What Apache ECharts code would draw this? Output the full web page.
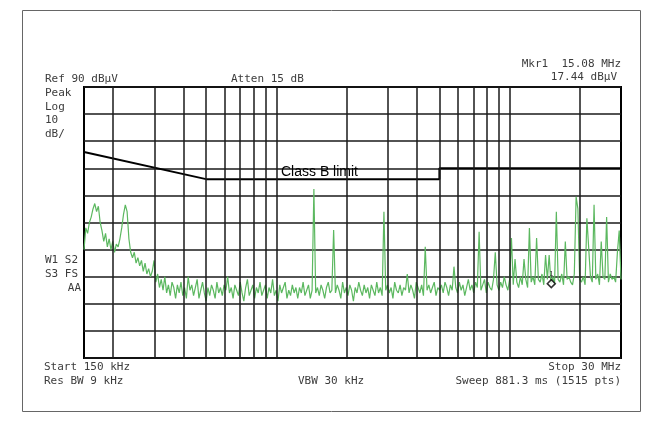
<!DOCTYPE html>
<html>
<head>
<meta charset="utf-8">
<script src="https://cdn.jsdelivr.net/npm/echarts@6/dist/echarts.min.js"></script>
<style>
html,body{margin:0;padding:0;background:#fff;}
#c{width:652px;height:446px;}
</style>
</head>
<body>
<div id="c"></div>
<script>
// Sweep settings (instrument)
const startHz = 150000;
const stopHz = 30000000;
// Measured trace (dBµV), 300 sweep points evenly spaced on the log frequency axis
const traceDb = [
  30, 38, 36, 40, 42, 45, 47, 44, 46, 40, 37, 33, 36, 31, 34, 30, 33, 29, 32, 31,
  34, 38, 43, 46.5, 44, 34, 29, 27, 29, 25, 27, 24, 26, 22, 25, 21, 23, 20, 22, 26,
  18, 21, 16, 19, 15, 20, 14, 17, 13, 18, 16, 12, 17, 14, 18, 13, 16, 12, 20, 15,
  17, 13, 16, 19, 12, 15, 18, 14, 11, 16, 13, 17, 15, 12, 18, 14, 16, 13, 17, 15,
  20, 14, 16, 12, 17, 15, 13, 18, 14, 11, 16, 19, 13, 15, 17, 12, 16, 14, 18, 13,
  15, 17, 12, 16, 14, 19, 13, 15, 11, 17, 14, 16, 18, 12, 15, 13, 17, 14, 16, 12,
  16, 14, 18, 13, 15, 17, 12, 15, 52.4, 14, 16, 13, 17, 15, 12, 16, 18, 14, 15, 37.2,
  14, 17, 15, 12, 18, 14, 16, 13, 17, 15, 11, 16, 14, 18, 15, 13, 17, 14, 16, 12,
  17, 15, 13, 18, 14, 16, 13, 44, 15, 17, 14, 16, 12, 18, 15, 14, 17, 13, 16, 15,
  21, 14, 17, 15, 12, 18, 16, 14, 17, 13, 31, 15, 17, 14, 16, 18, 13, 16, 15, 17,
  14, 18, 16, 13, 17, 15, 23.7, 16, 14, 18, 15, 17, 13, 16, 19, 15, 17, 14, 18, 16,
  36.6, 15, 17, 19, 14, 18, 16, 15, 19, 29, 17, 15, 18, 16, 20, 17, 15, 19, 34.3, 17,
  26.5, 18, 16, 20, 17, 26.5, 19, 16, 38, 18, 20, 17, 34.3, 19, 18, 21, 17, 28, 19, 28,
  17.4, 20, 17, 44, 19, 18, 21, 17, 33, 19, 20, 18, 17, 21, 49.5, 45, 19, 18, 20, 17,
  41.6, 41.6, 20, 18, 46.5, 19, 21, 17, 33, 20, 19, 42, 18, 21, 19, 20, 18, 29, 37, 19
];
// Class B limit (frequency Hz, dBµV)
const limitHz = [150000, 500000, 5000000, 5000000, 30000000];
const limitDb = [66, 56, 56, 60, 60];
// Vertical graticule frequencies
const gridHz = [200000, 300000, 400000, 500000, 600000, 700000, 800000, 900000, 1000000,
  2000000, 3000000, 4000000, 5000000, 6000000, 7000000, 8000000, 9000000, 10000000, 20000000];
// Marker 1
const markerHz = 15080000;
const markerDb = 17.44;

const N = traceDb.length;
const traceData = traceDb.map((v, i) => [startHz * Math.pow(stopHz / startHz, i / (N - 1)), v]);
const limitData = limitHz.map((f, i) => [f, limitDb[i]]);

const mono = '11px "DejaVu Sans Mono", monospace';
const tc = '#3c3c3c';
function t(text, x, y, align) {
  return { type: 'text', silent: true, style: { text: text, x: x, y: y, font: mono, fill: tc, textAlign: align || 'left', textVerticalAlign: 'middle' } };
}

const chart = echarts.init(document.getElementById('c'), null, { renderer: 'canvas' });
chart.setOption({
  animation: false,
  backgroundColor: '#fff',
  grid: { left: 84, top: 87, right: 31, bottom: 88, show: true, borderColor: '#000', borderWidth: 2, backgroundColor: 'transparent' },
  xAxis: {
    type: 'log', logBase: 10, min: startHz, max: stopHz,
    axisLine: { show: false }, axisTick: { show: false }, axisLabel: { show: false }, splitLine: { show: false }
  },
  yAxis: {
    type: 'value', min: -10, max: 90, interval: 10,
    axisLine: { show: false }, axisTick: { show: false }, axisLabel: { show: false },
    splitLine: { show: true, lineStyle: { color: '#1a1a1a', width: 1.5 } }
  },
  series: [
    {
      type: 'line', name: 'Class B limit', data: limitData, showSymbol: false, z: 4,
      lineStyle: { color: '#000', width: 2 },
      markLine: {
        silent: true, symbol: ['none', 'none'], label: { show: false },
        lineStyle: { color: '#1a1a1a', width: 1.5, type: 'solid' },
        data: gridHz.map(f => ({ xAxis: f }))
      }
    },
    {
      type: 'line', name: 'Trace', data: traceData, showSymbol: false, z: 3,
      lineStyle: { color: '#5cb860', width: 1.2 }
    },
    {
      type: 'scatter', name: 'Mkr1', data: [[markerHz, markerDb]], z: 5,
      symbol: 'diamond', symbolSize: 8,
      itemStyle: { color: '#fff', borderColor: '#000', borderWidth: 1.5 },
      label: { show: true, formatter: '1', position: 'top', distance: 1, fontSize: 7, color: '#000', fontFamily: 'DejaVu Sans Mono' }
    }
  ],
  graphic: [
    { type: 'rect', silent: true, shape: { x: 22.5, y: 10.5, width: 618, height: 401 }, style: { fill: 'none', stroke: '#666', lineWidth: 1 } },
    t('Ref 90 dB\u03bcV', 45, 79),
    t('Atten 15 dB', 231, 79),
    t('Mkr1  15.08 MHz', 621, 64, 'right'),
    t('17.44 dB\u03bcV', 617, 77, 'right'),
    t('Peak', 45, 93),
    t('Log', 45, 107),
    t('10', 45, 120),
    t('dB/', 45, 134),
    t('W1 S2', 45, 260),
    t('S3 FS', 45, 274),
    t('AA', 81, 288, 'right'),
    t('Start 150 kHz', 44, 367),
    t('Stop 30 MHz', 621, 367, 'right'),
    t('Res BW 9 kHz', 44, 381),
    t('VBW 30 kHz', 298, 381),
    t('Sweep 881.3 ms (1515 pts)', 621, 381, 'right'),
    { type: 'text', silent: true, z: 10, style: { text: 'Class B limit', x: 281, y: 172, font: '14px "Liberation Sans", Arial, sans-serif', fill: '#000', textAlign: 'left', textVerticalAlign: 'middle' } }
  ]
});
</script>
</body>
</html>
